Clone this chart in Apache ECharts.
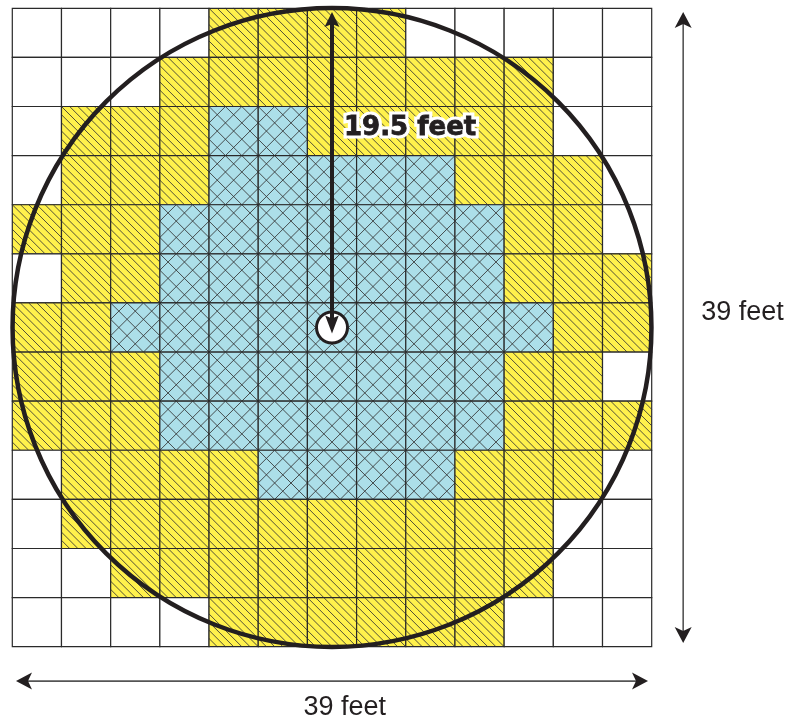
<!DOCTYPE html>
<html><head><meta charset="utf-8">
<script src="https://cdn.jsdelivr.net/npm/echarts@6/dist/echarts.min.js"></script>
<style>html,body{margin:0;padding:0;background:#fff}#c{width:796px;height:722px}</style>
</head><body><div id="c"></div>
<script>
// ---- data ----
// '.' = white square, 'Y' = yellow hatched square, 'B' = blue cross-hatched square
const gridRows = [
  "....YYYY.....",
  "...YYYYYYYY..",
  ".YYYBBYYYYY..",
  ".YYYBBBBBYYY.",
  "YYYBBBBBBBYY.",
  ".YYBBBBBBBYYY",
  "YYBBBBBBBBBYY",
  "YYYBBBBBBBYY.",
  "YYYBBBBBBBYYY",
  ".YYYYBBBBYYY.",
  ".YYYYYYYYYY..",
  "..YYYYYYYYY..",
  "....YYYYYY..."
];
const gridSize = 13;            // 13 x 13 squares, 3 feet each
const circleData = [[6.5, 6.5, 6.5]];          // center x, center y, radius (squares)
const radiusArrowData = [[6.5, 6.5, 6.5, 0]];  // from center to top of circle
const dimArrowData = [[0.075, 13.7, 12.925, 13.7], [13.64, 0.075, 13.64, 12.925]];
const labelTexts = ['19.5 feet', '39 feet', '39 feet'];
const labelAnchors = [[6.5, 2.44], [13.64, 6.2], [6.76, 14.24]];

// ---- styles ----
const codeIndex = {'.': 0, 'Y': 1, 'B': 2};
const fills = ['#ffffff', '#fff14c', '#acdfe9'];
const ink = '#231f20';

const cellData = [];
gridRows.forEach((row, r) => {
  for (let c = 0; c < row.length; c++) cellData.push([c, r, codeIndex[row[c]]]);
});

function hatchBack(x, y, w, h, n) {
  let d = '';
  for (let k = -(n - 1); k <= n - 1; k++) {
    let u0, v0, u1, v1;
    if (k >= 0) { u0 = k / n; v0 = 0; u1 = 1; v1 = 1 - k / n; }
    else { u0 = 0; v0 = -k / n; u1 = 1 + k / n; v1 = 1; }
    d += 'M' + (x + u0 * w) + ' ' + (y + v0 * h) + 'L' + (x + u1 * w) + ' ' + (y + v1 * h);
  }
  return d;
}
function hatchFwd(x, y, w, h, n) {
  let d = '';
  for (let m = 1; m <= 2 * n - 1; m++) {
    let u0, v0, u1, v1;
    if (m <= n) { u0 = m / n; v0 = 0; u1 = 0; v1 = m / n; }
    else { u0 = 1; v0 = m / n - 1; u1 = m / n - 1; v1 = 1; }
    d += 'M' + (x + u0 * w) + ' ' + (y + v0 * h) + 'L' + (x + u1 * w) + ' ' + (y + v1 * h);
  }
  return d;
}

function renderCell(params, api) {
  const c = api.value(0), r = api.value(1), t = api.value(2);
  const a = api.coord([c, r]), b = api.coord([c + 1, r + 1]);
  const x = a[0], y = a[1], w = b[0] - a[0], h = b[1] - a[1];
  const children = [{type: 'rect', shape: {x, y, width: w, height: h}, style: {fill: fills[t]}}];
  let d = '';
  if (t === 1) d = hatchBack(x, y, w, h, 6);
  if (t === 2) d = hatchBack(x, y, w, h, 3) + hatchFwd(x, y, w, h, 3);
  if (d) children.push({type: 'path', shape: {pathData: d}, style: {fill: null, stroke: '#333', lineWidth: 0.85}});
  children.push({type: 'rect', shape: {x, y, width: w, height: h}, style: {fill: null, stroke: '#2a2a2a', lineWidth: 1.2}});
  return {type: 'group', children};
}

function renderCircle(params, api) {
  const cx = api.value(0), cy = api.value(1), rr = api.value(2);
  const c = api.coord([cx, cy]);
  const ex = api.coord([cx + rr, cy]), ey = api.coord([cx, cy - rr]);
  const r = ((ex[0] - c[0]) + Math.abs(c[1] - ey[1])) / 2;
  return {type: 'circle', shape: {cx: c[0], cy: c[1], r}, style: {fill: null, stroke: ink, lineWidth: 4.5}};
}

function arrowHead(tx, ty, dx, dy, len, half, notch) {
  const bx = tx - dx * len, by = ty - dy * len;
  const px = -dy, py = dx;
  return [[tx, ty], [bx + px * half, by + py * half], [tx - dx * (len - notch), ty - dy * (len - notch)], [bx - px * half, by - py * half]];
}

function renderRadiusArrow(params, api) {
  const c = api.coord([api.value(0), api.value(1)]);
  const t = api.coord([api.value(2), api.value(3)]);
  const topTip = t[1] + 3.6;
  const botTip = c[1] + 6;
  return {type: 'group', children: [
    {type: 'circle', shape: {cx: c[0], cy: c[1], r: 15.5}, style: {fill: '#fff', stroke: ink, lineWidth: 3}},
    {type: 'line', shape: {x1: c[0], y1: topTip + 10, x2: c[0], y2: botTip - 12}, style: {stroke: ink, lineWidth: 4}},
    {type: 'polygon', shape: {points: arrowHead(c[0], topTip, 0, -1, 15, 7.5, 3)}, style: {fill: ink}},
    {type: 'polygon', shape: {points: arrowHead(c[0], botTip, 0, 1, 18, 6.8, 3)}, style: {fill: ink}}
  ]};
}

function renderDimArrow(params, api) {
  const a = api.coord([api.value(0), api.value(1)]);
  const b = api.coord([api.value(2), api.value(3)]);
  const L = Math.hypot(b[0] - a[0], b[1] - a[1]);
  const dx = (b[0] - a[0]) / L, dy = (b[1] - a[1]) / L;
  return {type: 'group', children: [
    {type: 'line', shape: {x1: a[0] + dx * 10, y1: a[1] + dy * 10, x2: b[0] - dx * 10, y2: b[1] - dy * 10}, style: {stroke: '#555', lineWidth: 1.6}},
    {type: 'polygon', shape: {points: arrowHead(b[0], b[1], dx, dy, 16, 8.5, 4)}, style: {fill: ink}},
    {type: 'polygon', shape: {points: arrowHead(a[0], a[1], -dx, -dy, 16, 8.5, 4)}, style: {fill: ink}}
  ]};
}

const labelStyles = [
  {font: 'bold 26px "DejaVu Sans"', dx: 12, align: 'left', halo: true},
  {font: '27px "Liberation Sans", Arial, sans-serif', dx: 18, align: 'left', halo: false},
  {font: '27px "Liberation Sans", Arial, sans-serif', dx: 0, align: 'center', halo: false}
];
function renderLabel(params, api) {
  const i = params.dataIndex;
  const p = api.coord([api.value(0), api.value(1)]);
  const s = labelStyles[i];
  const base = {text: labelTexts[i], font: s.font, align: s.align, verticalAlign: 'middle'};
  const children = [];
  if (s.halo) children.push({type: 'text', x: p[0] + s.dx, y: p[1], style: Object.assign({}, base, {fill: '#fff', stroke: '#fff', lineWidth: 7, lineJoin: 'round'})});
  children.push({type: 'text', x: p[0] + s.dx, y: p[1], style: Object.assign({}, base, {fill: ink, stroke: s.halo ? ink : null, lineWidth: s.halo ? 0.8 : 0})});
  return {type: 'group', children};
}

const chart = echarts.init(document.getElementById('c'), null, {renderer: 'canvas'});
chart.setOption({
  animation: false,
  backgroundColor: '#fff',
  grid: {left: 12.3, top: 8.3, width: 639.4, height: 638.4},
  xAxis: {type: 'value', min: 0, max: gridSize, show: false},
  yAxis: {type: 'value', min: 0, max: gridSize, inverse: true, show: false},
  series: [
    {type: 'custom', renderItem: renderCell, data: cellData, encode: {x: 0, y: 1}, silent: true},
    {type: 'custom', renderItem: renderCircle, data: circleData, encode: {x: 0, y: 1}, silent: true},
    {type: 'custom', renderItem: renderRadiusArrow, data: radiusArrowData, encode: {x: 0, y: 1}, silent: true},
    {type: 'custom', renderItem: renderDimArrow, data: dimArrowData, encode: {x: 0, y: 1}, silent: true},
    {type: 'custom', renderItem: renderLabel, data: labelAnchors, encode: {x: 0, y: 1}, silent: true}
  ]
});
</script>
</body></html>
